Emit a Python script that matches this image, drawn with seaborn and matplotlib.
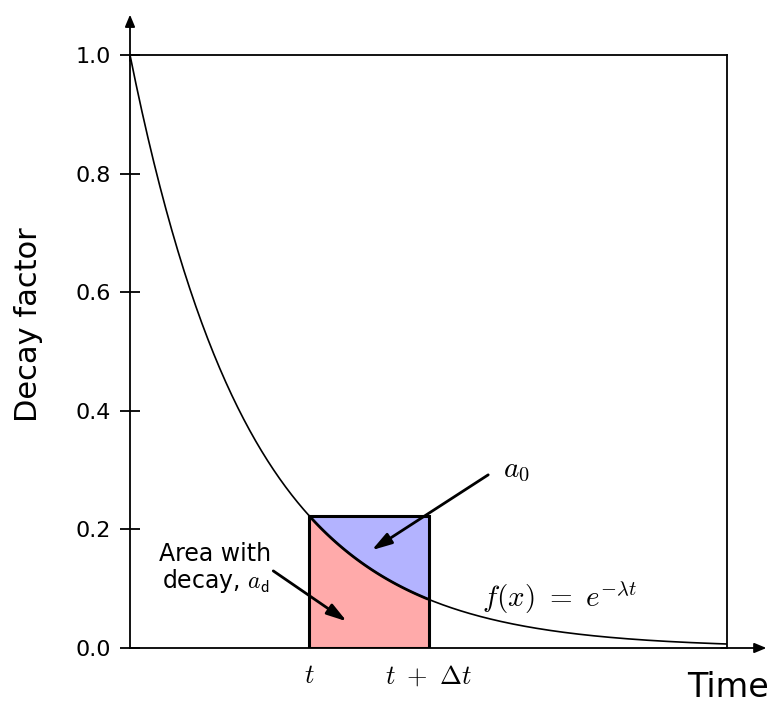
import numpy as np
import pandas as pd
import matplotlib
matplotlib.use("Agg")
import matplotlib.pyplot as plt
import seaborn as sns

# ---- data ----
decay_rate = 5.0            # lambda
t_start = 0.3               # t
t_step = 0.2                # delta t
y_ticks = [0.0, 0.2, 0.4, 0.6, 0.8, 1.0]
y_tick_labels = ["0.0", "0.2", "0.4", "0.6", "0.8", "1.0"]
x_tick_pos = [t_start, t_start + t_step]
x_tick_labels = [r"$t$", r"$t\ +\ \Delta t$"]

sns.set_theme(style="white")
plt.rcParams['font.family'] = ['DejaVu Sans']
plt.rcParams['mathtext.fontset'] = 'cm'
plt.rcParams['text.color'] = 'black'

time = np.linspace(0, 1, 400)
curve = pd.DataFrame({"time": time, "decay": np.exp(-decay_rate * time)})

fig = plt.figure(figsize=(7.70, 7.06), dpi=100)
ax = fig.add_axes([130/770, 58/706, 597/770, 593/706])

sns.lineplot(data=curve, x="time", y="decay", ax=ax, color="black", lw=1.2)

# highlighted interval
seg = curve[(curve.time >= t_start) & (curve.time <= t_start + t_step)]
top = np.exp(-decay_rate * t_start)
ax.fill_between(seg.time, 0, seg.decay, color="#ffaaaa", lw=0)
ax.fill_between(seg.time, seg.decay, top, color="#b3b3ff", lw=0)
sns.lineplot(x=seg.time.values, y=seg.decay.values, ax=ax, color="black", lw=2.0)
ax.plot([t_start, t_start, t_start + t_step, t_start + t_step, t_start],
        [0, top, top, 0, 0], color="black", lw=2.2, solid_joinstyle="miter")

ax.set_xlim(0, 1)
ax.set_ylim(0, 1)
ax.set_yticks(y_ticks)
ax.set_yticklabels(y_tick_labels, fontsize=16, color="black")
ax.set_xticks(x_tick_pos)
ax.set_xticklabels(x_tick_labels, fontsize=19, color="black")
ax.tick_params(axis="y", left=True, direction="inout", length=14, width=1.3,
               color="black", pad=7)
ax.tick_params(axis="x", bottom=True, length=0, pad=11)
for s in ax.spines.values():
    s.set_color("black")
    s.set_linewidth(1.3)
ax.set_xlabel("")
ax.set_ylabel("Decay factor", fontsize=22, color="black")
ax.yaxis.set_label_coords(-0.146, 0.545)

# axis arrows
ax.annotate("", xy=(0, 1.068), xytext=(0, 0.99), xycoords="axes fraction",
            arrowprops=dict(arrowstyle="-|>,head_length=0.6,head_width=0.25",
                            color="black", lw=1.3, shrinkA=0, shrinkB=0),
            annotation_clip=False)
ax.annotate("", xy=(1.066, 0), xytext=(0.99, 0), xycoords="axes fraction",
            arrowprops=dict(arrowstyle="-|>,head_length=0.6,head_width=0.25",
                            color="black", lw=1.3, shrinkA=0, shrinkB=0),
            annotation_clip=False)
ax.text(1.07, -0.067, "Time", transform=ax.transAxes, ha="right", va="center",
        fontsize=24, color="black")

# annotations
arrow = dict(arrowstyle="-|>,head_length=1.0,head_width=0.3", color="black",
             lw=2.0, shrinkA=0, shrinkB=0)
ax.annotate("", xy=(0.405, 0.165), xytext=(0.6, 0.292), arrowprops=arrow)
ax.text(0.625, 0.30, r"$a_\mathsf{0}$", fontsize=21, ha="left", va="center")
ax.annotate("", xy=(0.363, 0.045), xytext=(0.24, 0.13), arrowprops=arrow)
ax.text(0.143, 0.158, "Area with", fontsize=17, ha="center", va="center")
ax.text(0.143, 0.113, r"decay, $a_\mathsf{d}$", fontsize=17, ha="center", va="center")
ax.text(0.59, 0.085, r"$f(x)\ =\ e^{-\lambda t}$", fontsize=21, ha="left", va="center")

fig.savefig("out.png", dpi=100)
